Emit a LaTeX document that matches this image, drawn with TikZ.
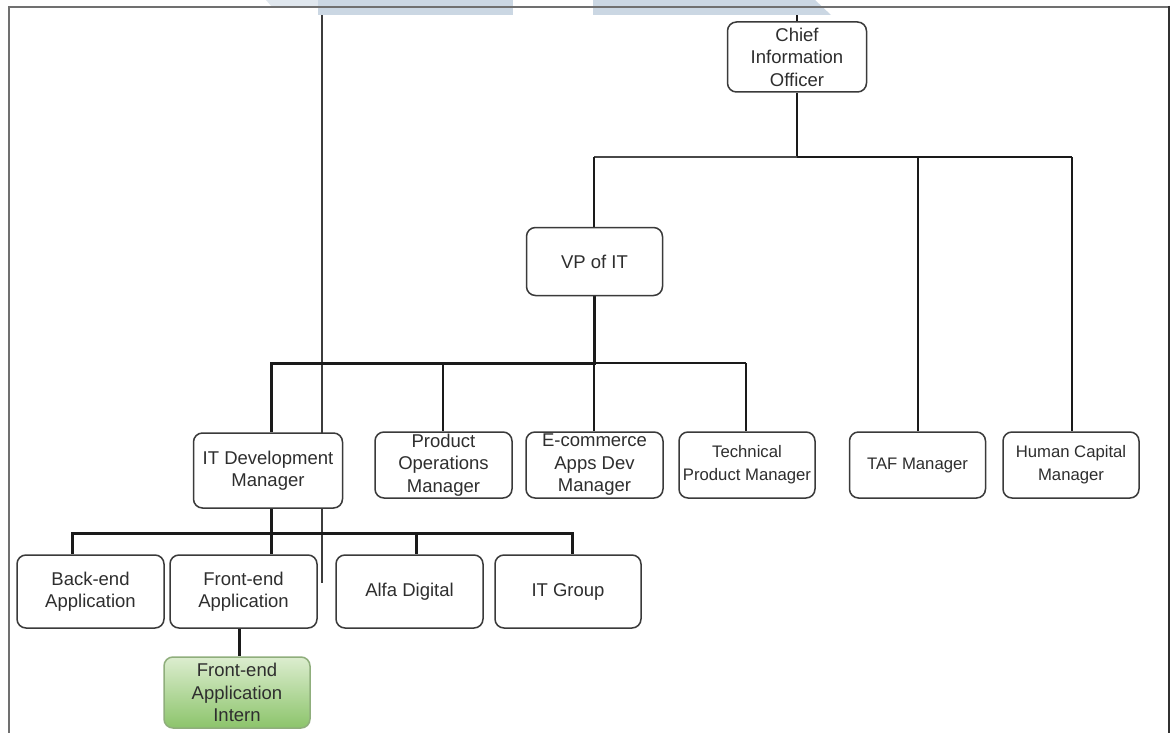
\documentclass[tikz,border=0pt]{standalone}
\usepackage{fontspec}
\setmainfont{Liberation Sans}
\definecolor{boxc}{HTML}{3A3A3A}
\definecolor{txt}{HTML}{2E2E2E}
\definecolor{linec}{HTML}{1A1A1A}
\definecolor{framec}{HTML}{707070}
\definecolor{bandc}{HTML}{CBD7E3}
\definecolor{greentop}{HTML}{DCEDCF}
\definecolor{greenbot}{HTML}{8CC46B}
\definecolor{greenedge}{HTML}{8FAE7C}
\newcommand\fA{\fontsize{18.5}{22.5}\selectfont}
\newcommand\fB{\fontsize{16.7}{23}\selectfont}
\pgfdeclarelayer{back}
\pgfdeclarelayer{bg}
\pgfsetlayers{back,bg,main}
\tikzset{
  box/.style={draw=boxc, line width=1.5pt, rounded corners=9pt, fill=white,
    align=center, inner sep=0pt, font=\fA, text=txt},
  smallbox/.style={box, font=\fB},
  conn/.style={draw=linec, line width=1.7pt},
  thickc/.style={draw=linec, line width=3pt},
  greybar/.style={draw=linec!80, line width=1.4pt},
  frameline/.style={draw=framec, line width=2pt},
}
\begin{document}
\begin{tikzpicture}[x=1pt,y=-1pt]
\useasboundingbox (0,0) rectangle (1173,733);
\begin{pgfonlayer}{back}
\fill[white] (0,0) rectangle (1173,733);
\end{pgfonlayer}

% nodes
\node[box, minimum width=139pt, minimum height=70pt] (cio) at (797,57) {Chief\\Information\\Officer};
\node[box, minimum width=136pt, minimum height=68pt] (vp) at (594.5,261.5) {VP of IT};
\node[box, minimum width=149pt, minimum height=75pt] (itdev) at (268,470.5) {IT Development\\Manager};
\node[box, minimum width=137pt, minimum height=66pt] (prodops) at (443.5,465) {Product\\Operations\\Manager};
\node[box, minimum width=137pt, minimum height=66pt] (ecom) at (594.5,465) {E-commerce\\Apps Dev\\Manager};
\node[smallbox, minimum width=136pt, minimum height=66pt] (techpm) at (747,465) {Technical\\Product Manager};
\node[smallbox, minimum width=136pt, minimum height=66pt] (taf) at (917.5,465) {TAF Manager};
\node[smallbox, minimum width=136pt, minimum height=66pt] (hcm) at (1071,465) {Human Capital\\Manager};
\node[box, minimum width=147pt, minimum height=73pt] (backend) at (90.5,591.5) {Back-end\\Application};
\node[box, minimum width=147pt, minimum height=73pt] (frontend) at (243.5,591.5) {Front-end\\Application};
\node[box, minimum width=147pt, minimum height=73pt] (alfa) at (409.5,591.5) {Alfa Digital};
\node[box, minimum width=146pt, minimum height=73pt] (itgroup) at (568,591.5) {IT Group};
\node[box, draw=greenedge, top color=greentop, bottom color=greenbot, minimum width=146pt, minimum height=71pt] (intern) at (237,692.5) {Front-end\\Application\\Intern};

% junction coordinates
\coordinate (ct) at (797,7);
\coordinate (jc) at (797,157);
\coordinate (b1) at (594,157);
\coordinate (b2) at (918,157);
\coordinate (b3) at (1072,157);
\coordinate (v1) at (271,363);
\coordinate (v2) at (443,363);
\coordinate (v3) at (594,363);
\coordinate (v4) at (746,363);
\coordinate (w0) at (72,533);
\coordinate (w1) at (271,533);
\coordinate (w2) at (416,533);
\coordinate (w3) at (572,533);
\coordinate (lt) at (322,7);
\coordinate (lb) at (322,583);
\coordinate (ix) at (239,0);

\begin{pgfonlayer}{bg}
  % long vertical line
  \draw[draw=linec!85, line width=1.5pt] (lt) -- (lb);
  % CIO level
  \draw[conn] (ct) -- (cio.north);
  \draw[conn] (cio.south) -- (jc);
  \draw[greybar] (b1) -- (jc);
  \draw[conn] (jc) -- (b3);
  \draw[conn] (b1) -- (b1 |- vp.north);
  \draw[conn] (b2) -- (b2 |- taf.north);
  \draw[conn] (b3) -- (b3 |- hcm.north);
  % VP level
  \draw[thickc] (v3 |- vp.south) -- (v3);
  \draw[thickc, line cap=rect] (v1) -- (v3);
  \draw[conn] (v3) -- (v4);
  \draw[thickc] (v1) -- (v1 |- itdev.north);
  \draw[conn] (v2) -- (v2 |- prodops.north);
  \draw[conn] (v3) -- (v3 |- ecom.north);
  \draw[conn] (v4) -- (v4 |- techpm.north);
  % IT dev level
  \draw[thickc] (w1 |- itdev.south) -- (w1);
  \draw[thickc, line cap=rect] (w0) -- (w3);
  \draw[thickc] (w0) -- (w0 |- backend.north);
  \draw[thickc] (w1) -- (w1 |- frontend.north);
  \draw[thickc] (w2) -- (w2 |- alfa.north);
  \draw[thickc] (w3) -- (w3 |- itgroup.north);
  % intern
  \draw[thickc] (ix |- frontend.south) -- (ix |- intern.north);
\end{pgfonlayer}

% banner shapes at the top
\fill[bandc!60] (266,0) -- (318,0) -- (318,7) -- (272,7) -- cycle;
\fill[bandc] (318,0) -- (513,0) -- (513,15) -- (318,15) -- cycle;
\fill[bandc] (593,0) -- (815,0) -- (831,15) -- (593,15) -- cycle;

% frame
\draw[frameline, line width=2.6pt] (9,733) -- (9,7);
\draw[frameline] (8,7) -- (1169,7);
\draw[draw=linec!90, line width=2pt] (1169,6) -- (1169,733);
\end{tikzpicture}
\end{document}
